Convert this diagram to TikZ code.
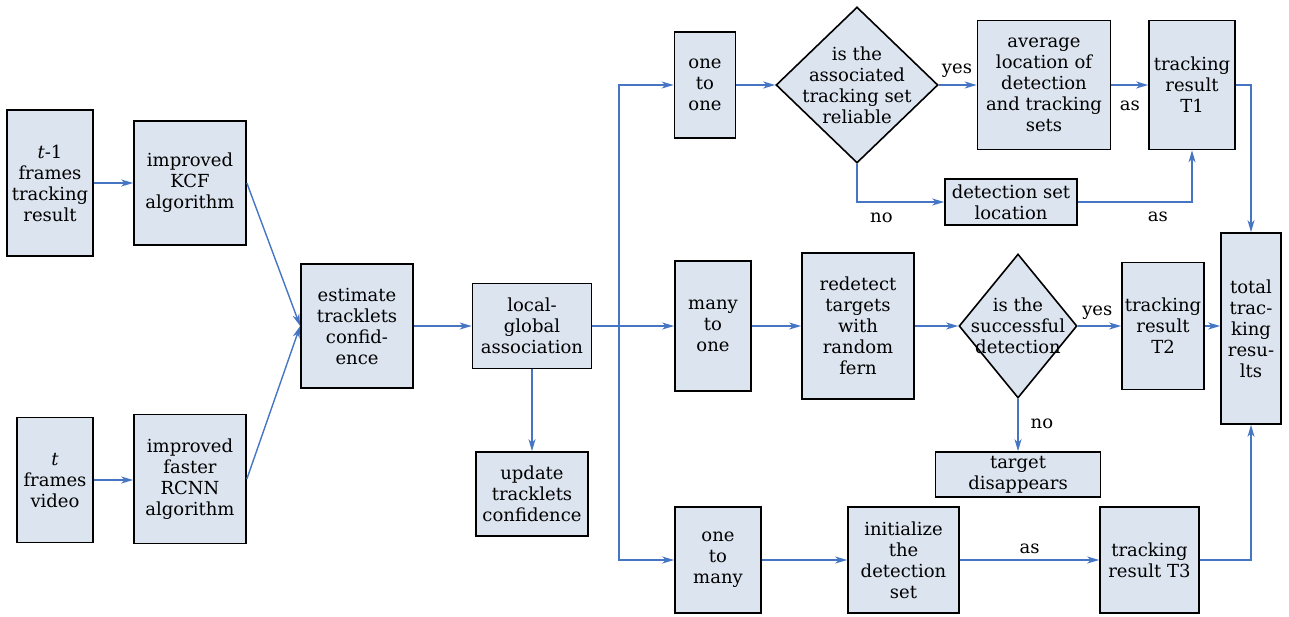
\documentclass[tikz,border=0pt]{standalone}
\usepackage{fontspec}
\setmainfont{DejaVu Serif}
\usetikzlibrary{arrows.meta,shapes.geometric}
\definecolor{boxfill}{RGB}{220,228,239}
\definecolor{lineblue}{RGB}{70,118,195}
\begin{document}
\begin{tikzpicture}[x=1pt,y=1pt,
  txt/.style={font=\fontsize{18}{21}\selectfont},
  box/.style={txt, draw=black, line width=1.7pt, fill=boxfill, align=center, inner sep=0pt},
  dia/.style={txt, diamond, draw=black, line width=1.6pt, fill=boxfill, align=center, inner sep=-40pt},
  conn/.style={draw=lineblue, line width=1.4pt},
  arr/.style={conn, -{Stealth[length=12pt,width=7pt,inset=3.5pt]}},
  lab/.style={txt, inner sep=2pt}
]
\useasboundingbox (0,0) rectangle (1289,-616);

\node[box, minimum width=86pt, minimum height=146pt] (t1) at (50,-183) {\textit{t}-1\\frames\\tracking\\result};
\node[box, minimum width=112pt, minimum height=124pt] (kcf) at (190,-183) {improved\\KCF\\algorithm};
\node[box, minimum width=76pt, minimum height=125pt] (tv) at (55,-480) {\textit{t}\\frames\\video};
\node[box, minimum width=112pt, minimum height=129pt] (rcnn) at (190,-479) {improved\\faster\\RCNN\\algorithm};
\node[box, minimum width=112pt, minimum height=124pt] (est) at (357,-326) {estimate\\tracklets\\confid-\\ence};
\node[box, minimum width=119pt, minimum height=85pt] (lg) at (532,-326) {local-\\global\\association};
\node[box, minimum width=112pt, minimum height=84pt] (upd) at (532,-494) {update\\tracklets\\confidence};

\node[box, minimum width=61pt, minimum height=106pt] (oto) at (705,-85) {one\\to\\one};
\node[dia, minimum width=162pt, minimum height=156pt] (d1) at (857,-85) {is the\\associated\\tracking set\\reliable};
\node[box, minimum width=133pt, minimum height=129pt] (avg) at (1044,-85) {average\\location of\\detection\\and tracking\\sets};
\node[box, minimum width=86pt, minimum height=129pt] (t1r) at (1192,-85) {tracking\\result\\T1};
\node[box, minimum width=132pt, minimum height=46pt] (det) at (1011,-202) {detection set\\location};

\node[box, minimum width=76pt, minimum height=130pt] (mto) at (713,-326) {many\\to\\one};
\node[box, minimum width=112pt, minimum height=146pt] (red) at (858,-326) {redetect\\targets\\with\\random\\fern};
\node[dia, minimum width=118pt, minimum height=144pt] (d2) at (1018,-326) {is the\\successful\\detection};
\node[box, minimum width=82pt, minimum height=127pt] (t2) at (1163,-326) {tracking\\result\\T2};
\node[box, minimum width=60pt, minimum height=191pt] (tot) at (1251,-328.5) {total\\trac-\\king\\resu-\\lts};
\node[box, minimum width=165pt, minimum height=45pt] (dis) at (1018,-474.5) {target\\disappears};

\node[box, minimum width=86pt, minimum height=106pt] (otm) at (718,-560) {one\\to\\many};
\node[box, minimum width=111pt, minimum height=106pt] (ini) at (903.5,-560) {initialize\\the\\detection\\set};
\node[box, minimum width=99pt, minimum height=106pt] (t3) at (1149.5,-560) {tracking\\result T3};

\coordinate (sp) at (619,-326);

% left part
\draw[arr] (t1.east) -- (kcf.west);
\draw[arr] (tv.east) -- (tv.east -| rcnn.west);
\draw[arr] (kcf.east) -- (est.west);
\draw[arr] (rcnn.east) -- (est.west);
\draw[arr] (est.east) -- (lg.west);
\draw[arr] (lg.south) -- (upd.north);

% split
\draw[arr] (lg.east) -- (mto.west);
\draw[arr] (sp) |- (oto.west);
\draw[arr] (sp) |- (otm.west);

% top row
\draw[arr] (oto.east) -- (d1.west);
\draw[arr] (d1.east) -- node[lab, above=5pt, pos=0.48] {yes} (d1.east -| avg.west);
\draw[arr] (avg.east) -- node[lab, below=13pt, pos=0.5] {as} (t1r.west);
\draw[arr] (d1.south) |- node[lab, below=8pt, pos=0.64] {no} (det.west);
\draw[arr] (det.east) -| node[lab, below=7pt, pos=0.35] {as} (t1r.south);
\draw[arr] (t1r.east) -| (tot.north);

% middle row
\draw[arr] (mto.east) -- (mto.east -| red.west);
\draw[arr] (red.east) -- (d2.west);
\draw[arr] (d2.east) -- node[lab, above=4pt, pos=0.45] {yes} (d2.east -| t2.west);
\draw[arr] (t2.east) -- (t2.east -| tot.west);
\draw[arr] (d2.south) -- node[lab, right=10pt, pos=0.48] {no} (dis.north);

% bottom row
\draw[arr] (otm.east) -- (ini.west);
\draw[arr] (ini.east) -- node[lab, above=4pt] {as} (t3.west);
\draw[arr] (t3.east) -| (tot.south);
\end{tikzpicture}
\end{document}
